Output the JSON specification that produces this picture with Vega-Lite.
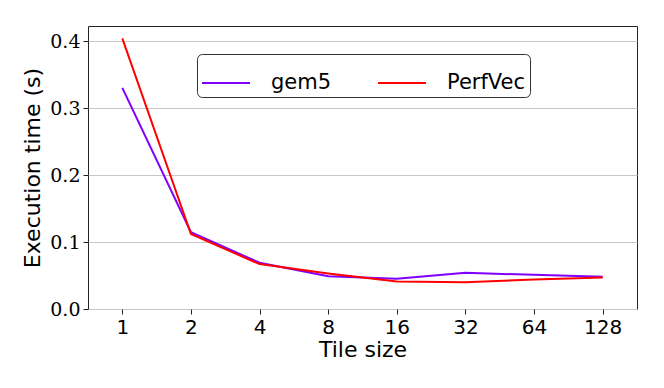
{
  "$schema": "https://vega.github.io/schema/vega-lite/v6.json",
  "autosize": "none",
  "padding": {"left": 88, "top": 26, "right": 27, "bottom": 79},
  "width": 549,
  "height": 283,
  "background": "white",
  "config": {
    "view": {"stroke": "#222222", "strokeWidth": 1},
    "axis": {"labelColor": "#000", "titleFont": "DejaVu Sans", "titleFontSize": 22, "titleFontWeight": "normal", "titleColor": "#000", "tickColor": "#222", "domain": false, "tickSize": 5}
  },
  "data": {
    "values": [
      {"tile": "1", "series": "gem5", "time": 0.330},
      {"tile": "2", "series": "gem5", "time": 0.1145},
      {"tile": "4", "series": "gem5", "time": 0.069},
      {"tile": "8", "series": "gem5", "time": 0.049},
      {"tile": "16", "series": "gem5", "time": 0.045},
      {"tile": "32", "series": "gem5", "time": 0.054},
      {"tile": "64", "series": "gem5", "time": 0.051},
      {"tile": "128", "series": "gem5", "time": 0.048},
      {"tile": "1", "series": "PerfVec", "time": 0.404},
      {"tile": "2", "series": "PerfVec", "time": 0.112},
      {"tile": "4", "series": "PerfVec", "time": 0.067},
      {"tile": "8", "series": "PerfVec", "time": 0.053},
      {"tile": "16", "series": "PerfVec", "time": 0.041},
      {"tile": "32", "series": "PerfVec", "time": 0.040},
      {"tile": "64", "series": "PerfVec", "time": 0.044},
      {"tile": "128", "series": "PerfVec", "time": 0.047}
    ]
  },
  "mark": {"type": "line", "strokeWidth": 2},
  "encoding": {
    "x": {
      "field": "tile", "type": "ordinal",
      "sort": ["1", "2", "4", "8", "16", "32", "64", "128"],
      "scale": {"type": "point", "padding": 0.5},
      "axis": {"title": "Tile size", "labelAngle": 0, "grid": false, "labelFont": "DejaVu Sans", "labelFontSize": 20, "labelPadding": 3, "titlePadding": 2}
    },
    "y": {
      "field": "time", "type": "quantitative",
      "scale": {"domain": [0, 0.4224], "nice": false},
      "axis": {"title": "Execution time (s)", "values": [0, 0.1, 0.2, 0.3, 0.4], "format": ".1f", "grid": true, "gridColor": "#c8c8c8", "gridWidth": 1, "labelFont": "DejaVu Serif", "labelFontSize": 19, "labelPadding": 3, "titlePadding": 5}
    },
    "color": {
      "field": "series", "type": "nominal",
      "scale": {"domain": ["gem5", "PerfVec"], "range": ["#7f00ff", "#ff0000"]},
      "legend": {
        "title": null, "orient": "none", "legendX": 109, "legendY": 28,
        "direction": "horizontal", "symbolType": "stroke", "symbolSize": 2300, "symbolStrokeWidth": 2,
        "labelFont": "DejaVu Sans", "labelFontSize": 21, "labelColor": "#000",
        "columnPadding": 42, "labelOffset": 20,
        "strokeColor": "#333", "fillColor": "white", "cornerRadius": 5, "padding": 4,
        "labelLimit": 200
      }
    }
  }
}
